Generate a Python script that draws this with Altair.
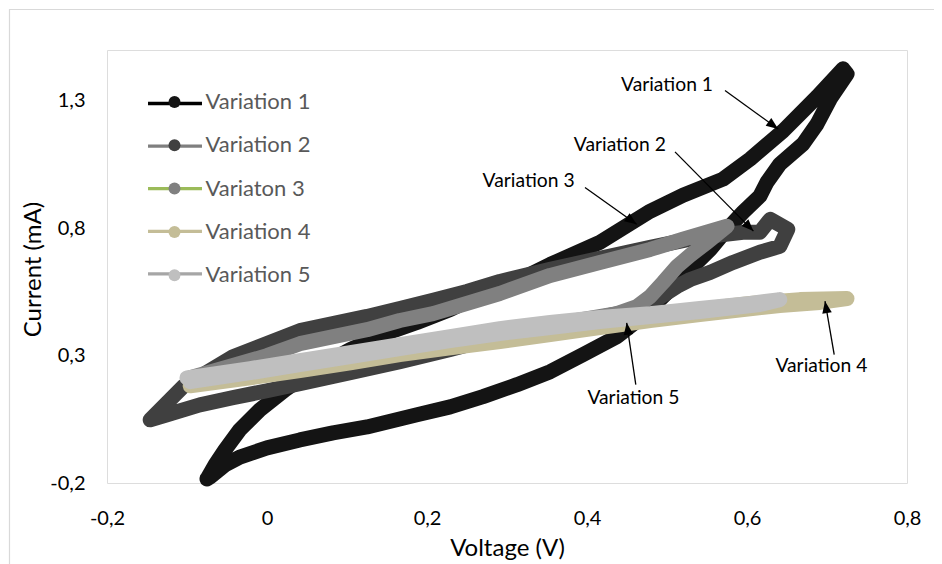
import math
import altair as alt
import pandas as pd

# ---------------- data ----------------
SERIES = ["Variation 1", "Variation 2", "Variaton 3", "Variation 4", "Variation 5"]
MARKER_COLORS = ["#141414", "#404040", "#808080", "#C4BD97", "#BFBFBF"]
LINE_COLORS = ["#000000", "#7F7F7F", "#9BBB59", "#C4BD97", "#A6A6A6"]

v1_voltage = [-0.075, -0.065, -0.0525, -0.034, -0.009, 0.0225, 0.0625, 0.104, 0.145, 0.1875,
              0.229, 0.2625, 0.316, 0.354, 0.416, 0.479, 0.52, 0.57, 0.604, 0.645,
              0.6875, 0.72, 0.725, 0.704, 0.6875, 0.67, 0.641, 0.625, 0.616, 0.595,
              0.575, 0.554, 0.529, 0.504, 0.47, 0.4375, 0.395, 0.354, 0.3125, 0.27,
              0.229, 0.1875, 0.125, 0.0825, 0.041, 0.0, -0.034, -0.0525, -0.071, -0.075]
v1_current = [-0.184, -0.129, -0.070, 0.009, 0.087, 0.166, 0.253, 0.324, 0.383, 0.430,
              0.481, 0.532, 0.599, 0.658, 0.745, 0.867, 0.930, 0.993, 1.072, 1.182,
              1.316, 1.426, 1.406, 1.308, 1.209, 1.131, 1.052, 0.981, 0.926, 0.863,
              0.796, 0.717, 0.639, 0.560, 0.454, 0.375, 0.304, 0.237, 0.186, 0.139,
              0.099, 0.068, 0.020, -0.003, -0.031, -0.062, -0.098, -0.129, -0.176, -0.184]

v2_voltage = [-0.146, -0.105, -0.0425, 0.041, 0.125, 0.166, 0.2075, 0.25, 0.291, 0.354,
              0.416, 0.479, 0.541, 0.595, 0.616, 0.629, 0.651, 0.641, 0.616, 0.5825,
              0.554, 0.529, 0.5125, 0.491, 0.4625, 0.416, 0.354, 0.291, 0.229, 0.166,
              0.104, 0.041, 0.0, -0.0425, -0.084, -0.125, -0.146]
v2_current = [0.048, 0.178, 0.296, 0.398, 0.454, 0.485, 0.517, 0.552, 0.591, 0.639,
              0.682, 0.725, 0.765, 0.784, 0.784, 0.835, 0.796, 0.729, 0.706, 0.666,
              0.627, 0.599, 0.572, 0.528, 0.481, 0.450, 0.414, 0.375, 0.324, 0.276,
              0.233, 0.190, 0.162, 0.135, 0.107, 0.068, 0.048]

v3_voltage = [-0.096, -0.0425, 0.0, 0.041, 0.125, 0.166, 0.2075, 0.291, 0.354, 0.416,
              0.479, 0.52, 0.575, 0.55, 0.529, 0.5125, 0.495, 0.479, 0.4625, 0.4375,
              0.395, 0.354, 0.291, 0.229, 0.166, 0.104, 0.041, -0.021, -0.096]
v3_current = [0.213, 0.261, 0.300, 0.347, 0.402, 0.438, 0.465, 0.544, 0.615, 0.666,
              0.717, 0.757, 0.808, 0.745, 0.694, 0.650, 0.587, 0.532, 0.493, 0.465,
              0.442, 0.422, 0.394, 0.363, 0.331, 0.300, 0.268, 0.237, 0.206]

v4_voltage = [-0.096, -0.021, 0.041, 0.104, 0.166, 0.229, 0.291, 0.354, 0.416, 0.479,
              0.541, 0.604, 0.666, 0.725, 0.691, 0.641, 0.541, 0.479, 0.416, 0.354,
              0.291, 0.229, 0.166, 0.104, 0.041, -0.021, -0.096]
v4_current = [0.194, 0.245, 0.276, 0.304, 0.335, 0.363, 0.391, 0.414, 0.438, 0.457,
              0.481, 0.505, 0.520, 0.524, 0.509, 0.497, 0.461, 0.438, 0.410, 0.383,
              0.355, 0.331, 0.304, 0.272, 0.241, 0.213, 0.182]

v5_voltage = [-0.1, -0.021, 0.041, 0.104, 0.166, 0.229, 0.291, 0.354, 0.416, 0.479,
              0.541, 0.604, 0.641, 0.616, 0.541, 0.479, 0.416, 0.354, 0.291, 0.229,
              0.166, 0.104, 0.041, -0.021, -0.096]
v5_current = [0.213, 0.249, 0.280, 0.312, 0.343, 0.375, 0.406, 0.430, 0.450, 0.465,
              0.485, 0.505, 0.520, 0.501, 0.473, 0.454, 0.434, 0.410, 0.387, 0.359,
              0.328, 0.296, 0.265, 0.233, 0.198]

# annotations (callouts with arrows)
ann_label = ["Variation 1", "Variation 2", "Variation 3", "Variation 4", "Variation 5"]
ann_text_v = [0.50, 0.441, 0.327, 0.693, 0.458]
ann_text_i = [1.362, 1.128, 0.984, 0.258, 0.133]
arrow_from_v = [0.5725, 0.51, 0.3975, 0.709, 0.461]
arrow_from_i = [1.341, 1.100, 0.960, 0.304, 0.186]
arrow_to_v = [0.639, 0.608, 0.462, 0.6975, 0.4496]
arrow_to_i = [1.190, 0.789, 0.816, 0.514, 0.429]

x_ticks = [-0.2, 0, 0.2, 0.4, 0.6, 0.8]
y_ticks = [-0.2, 0.3, 0.8, 1.3]
X_DOMAIN = [-0.2, 0.8]
Y_DOMAIN = [-0.2, 1.5]

# ---------------- layout ----------------
W, H = 800, 433
FONT = "Lato"

# ---------------- tables ----------------
volts = [v1_voltage, v2_voltage, v3_voltage, v4_voltage, v5_voltage]
currs = [v1_current, v2_current, v3_current, v4_current, v5_current]
rows = []
for name, vs, cs in zip(SERIES, volts, currs):
    for k, (v, c) in enumerate(zip(vs, cs)):
        rows.append({"series": name, "series_l": name, "series_f": name,
                     "idx": k, "V": v, "I": c})
df = pd.DataFrame(rows)

kx = W / (X_DOMAIN[1] - X_DOMAIN[0])
ky = H / (Y_DOMAIN[1] - Y_DOMAIN[0])
angles = []
for x1, y1, x2, y2 in zip(arrow_from_v, arrow_from_i, arrow_to_v, arrow_to_i):
    dx = (x2 - x1) * kx
    dy = -(y2 - y1) * ky
    angles.append(math.degrees(math.atan2(dx, -dy)) % 360)
ann = pd.DataFrame({"label": ann_label, "tv": ann_text_v, "ti": ann_text_i,
                    "x1": arrow_from_v, "y1": arrow_from_i,
                    "x2": arrow_to_v, "y2": arrow_to_i, "angle": angles})

xscale = alt.Scale(domain=X_DOMAIN, nice=False, zero=False)
yscale = alt.Scale(domain=Y_DOMAIN, nice=False, zero=False)

label_expr = "replace(replace(format(datum.value, '.1~f'), '.', ','), '\u2212', '-')"

x_enc = alt.X("V:Q", scale=xscale, axis=alt.Axis(
    values=x_ticks, labelExpr=label_expr, title="Voltage (V)", grid=False, ticks=False,
    domain=False, labelPadding=25, labelFontSize=20, labelColor="#000000", labelFont=FONT,
    labelFlush=False,
    titleFont=FONT, titleFontSize=24, titleFontWeight="normal", titleColor="#000000",
    titleY=72, titleBaseline="alphabetic"))
y_enc = alt.Y("I:Q", scale=yscale, axis=alt.Axis(
    values=y_ticks, labelExpr=label_expr, title="Current (mA)", grid=False, ticks=False,
    domain=False, labelPadding=22, labelFontSize=20, labelColor="#000000", labelFont=FONT,
    labelFlush=False,
    titleFont=FONT, titleFontSize=24, titleFontWeight="normal", titleColor="#000000",
    titleX=-74, titleY=219, titleAngle=270, titleAlign="center", titleBaseline="middle"))

LX, LY = 57, 41
legend_common = dict(orient="none", title=None, direction="vertical",
                     symbolStrokeWidth=3.3, labelFont=FONT, labelFontSize=22,
                     labelColor="#595959", padding=0, offset=0)

# legend line layer (hidden under the thick curves)
legend_lines = alt.Chart(df).mark_line(strokeWidth=3.3).encode(
    x=x_enc, y=y_enc, order="idx:Q",
    color=alt.Color("series_l:N", sort=SERIES,
                    scale=alt.Scale(range=LINE_COLORS),
                    legend=alt.Legend(symbolType="M-4,0L4,0", symbolSize=182,
                                      legendX=LX, legendY=LY + 1.5, rowPadding=20.6,
                                      labelExpr="' '", labelOffset=20, **legend_common)))

# legend marker layer (hidden under the thick curves)
legend_dots = alt.Chart(df).mark_circle(size=20, opacity=1).encode(
    x=x_enc, y=y_enc,
    fill=alt.Fill("series_f:N", sort=SERIES,
                  scale=alt.Scale(range=MARKER_COLORS),
                  legend=alt.Legend(symbolType="circle", symbolSize=143,
                                    legendX=LX - 0.5, legendY=LY, rowPadding=17.3,
                                    symbolStrokeColor="transparent", labelOffset=20,
                                    **legend_common)))

curves = alt.Chart(df).mark_line(strokeWidth=15, strokeCap="round", strokeJoin="round").encode(
    x=x_enc, y=y_enc, order="idx:Q",
    stroke=alt.Stroke("series:N", scale=alt.Scale(domain=SERIES, range=MARKER_COLORS), legend=None))

arrows = alt.Chart(ann).mark_rule(color="black", strokeWidth=1.3).encode(
    x=alt.X("x1:Q", scale=xscale), y=alt.Y("y1:Q", scale=yscale),
    x2="x2:Q", y2="y2:Q")

heads = alt.Chart(ann).mark_point(shape="M0,0L-0.8,2L0.8,2Z", filled=True, size=144,
                                  color="black", opacity=1).encode(
    x=alt.X("x2:Q", scale=xscale), y=alt.Y("y2:Q", scale=yscale),
    angle=alt.Angle("angle:Q", scale=None))

labels = alt.Chart(ann).mark_text(font=FONT, fontSize=19.3, color="black",
                                  align="center", baseline="middle").encode(
    x=alt.X("tv:Q", scale=xscale), y=alt.Y("ti:Q", scale=yscale), text="label:N")

border = alt.Chart(pd.DataFrame({"k": [0]})).mark_rect(
    fill="transparent", stroke="#D9D9D9", strokeWidth=1.2).encode(
    x=alt.value(-97.5), x2=alt.value(840), y=alt.value(-40.5), y2=alt.value(530))

chart = alt.layer(legend_lines, legend_dots, curves, arrows, heads, labels, border).properties(
    width=W, height=H,
    autosize=alt.AutoSizeParams(type="none"),
    padding={"left": 99, "top": 42, "right": 27, "bottom": 81},
    background="white",
).configure_view(stroke="black", strokeWidth=2).configure(font=FONT)

chart.save("out.html", embed_options={"renderer": "svg", "actions": False})
